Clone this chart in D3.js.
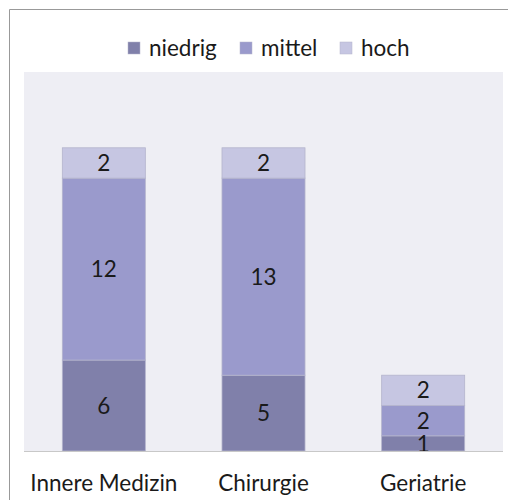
<!DOCTYPE html>
<html><head><meta charset="utf-8">
<script src="https://cdn.jsdelivr.net/npm/d3@7"></script>
<style>html,body{margin:0;padding:0;background:#fff;overflow:hidden;}svg{display:block;font-family:Lato,"Open Sans",sans-serif;}</style>
</head><body>
<svg id="c" width="508" height="500"></svg>
<script>
const categories = ["Innere Medizin", "Chirurgie", "Geriatrie"];
const seriesNames = ["niedrig", "mittel", "hoch"];
const niedrig = [6, 5, 1];
const mittel = [12, 13, 2];
const hoch = [2, 2, 2];
const colors = ["#8080aa", "#9a9acc", "#c6c6e2"];
const FS = 22.5;

const svg = d3.select("#c");
// outer frame (extends past right and bottom edges)
svg.append("path").attr("d", "M9.5,600V9.5H700")
  .attr("fill", "none").attr("stroke", "#999").attr("stroke-width", 1);

const plot = {left: 24, right: 503, top: 72, bottom: 451};
svg.append("rect").attr("x", plot.left).attr("y", plot.top)
  .attr("width", plot.right - plot.left).attr("height", plot.bottom - plot.top)
  .attr("fill", "#eeeef4");

const x = d3.scaleBand().domain(categories).range([plot.left, plot.right]).paddingInner(0.48).paddingOuter(0.24);
const y = d3.scaleLinear().domain([0, 25]).range([plot.bottom, plot.top]);

const rows = categories.map((c, i) => ({cat: c, niedrig: niedrig[i], mittel: mittel[i], hoch: hoch[i]}));
const stack = d3.stack().keys(seriesNames)(rows);

const g = svg.append("g");
stack.forEach((layer, li) => {
  layer.forEach(d => {
    g.append("rect")
      .attr("x", x(d.data.cat)).attr("width", x.bandwidth())
      .attr("y", y(d[1])).attr("height", y(d[0]) - y(d[1]))
      .attr("fill", colors[li]).attr("stroke", "#b4b4cc").attr("stroke-width", 0.8);
  });
});
stack.forEach((layer, li) => {
  layer.forEach(d => {
    g.append("text")
      .attr("x", x(d.data.cat) + x.bandwidth() / 2)
      .attr("y", (y(d[0]) + y(d[1])) / 2)
      .attr("dy", "0.36em").attr("text-anchor", "middle")
      .attr("font-size", FS).attr("fill", "#1a1a1a")
      .text(d.data[layer.key]);
  });
});

// baseline axis
const xAxis = svg.append("g").attr("transform", `translate(0,${plot.bottom})`)
  .call(d3.axisBottom(x).tickSize(0).tickPadding(24));
xAxis.select(".domain").attr("stroke", "#c8c8c8").attr("d", `M${plot.left},0.5H${plot.right}`);
xAxis.selectAll("text").attr("font-size", FS).attr("fill", "#1a1a1a").attr("font-family", "Lato, 'Open Sans', sans-serif");

// legend
const legendX = [128, 240, 340];
const leg = svg.append("g");
seriesNames.forEach((s, i) => {
  leg.append("rect").attr("x", legendX[i]).attr("y", 42).attr("width", 12).attr("height", 12)
    .attr("fill", colors[i]).attr("stroke", "#b4b4cc").attr("stroke-width", 0.5);
  leg.append("text").attr("x", legendX[i] + 21).attr("y", 48).attr("dy", "0.36em")
    .attr("font-size", FS).attr("fill", "#1a1a1a").text(s);
});
</script>
</body></html>
